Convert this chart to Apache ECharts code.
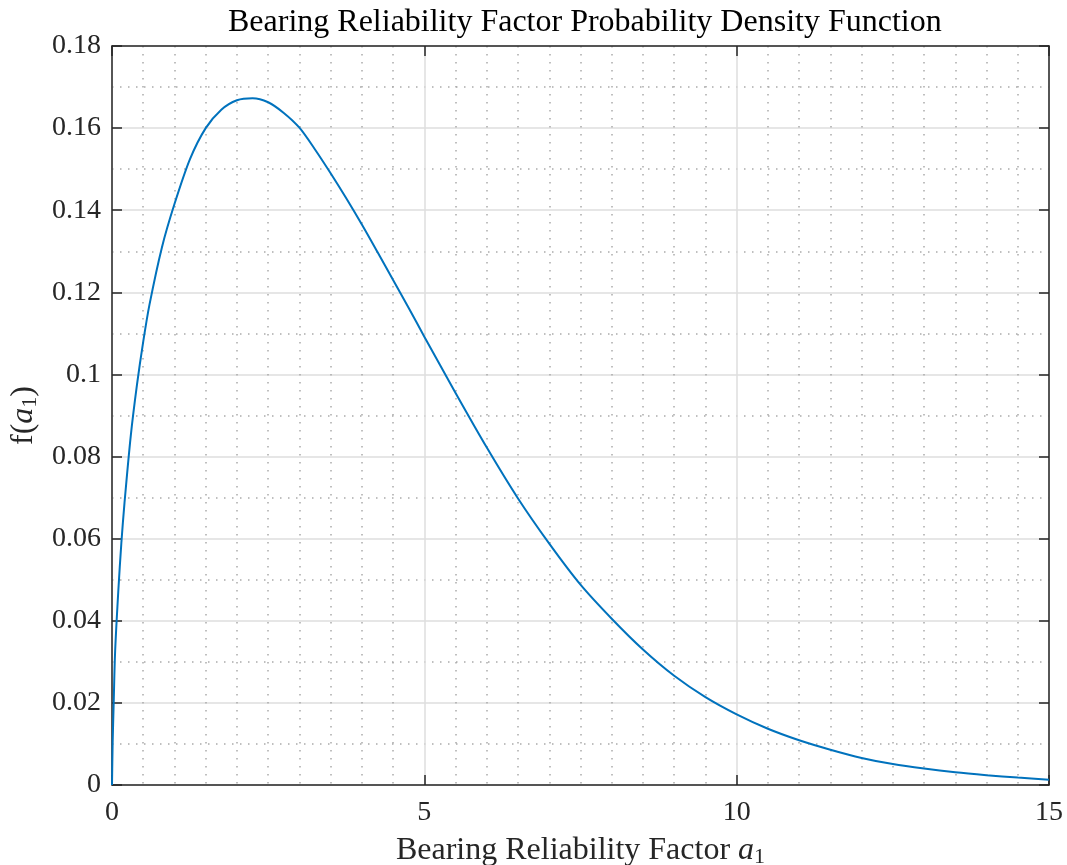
<!DOCTYPE html>
<html>
<head>
<meta charset="utf-8">
<script src="https://cdn.jsdelivr.net/npm/echarts@6/dist/echarts.min.js"></script>
<style>
html,body{margin:0;padding:0;background:#fff;}
#chart{width:1067px;height:865px;}
</style>
</head>
<body>
<div id="chart"></div>
<script>
// Data
const xVals = [0, 0.01, 0.027, 0.05, 0.1, 0.15, 0.2, 0.3, 0.4, 0.5, 0.6, 0.8, 1.0, 1.25, 1.5, 1.75, 2.0, 2.25, 2.5, 2.75, 3.0, 3.25, 3.5, 3.75, 4.0, 4.25, 4.5, 4.75, 5.0, 5.5, 6.0, 6.5, 7.0, 7.5, 8.0, 8.5, 9.0, 9.5, 10.0, 10.5, 11.0, 11.5, 12.0, 12.5, 13.0, 13.5, 14.0, 14.5, 15.0];
const yVals = [0, 0.010, 0.020, 0.0325, 0.047, 0.059, 0.0687, 0.085, 0.0975, 0.108, 0.117, 0.131, 0.1415, 0.1525, 0.160, 0.1645, 0.1668, 0.1673, 0.1663, 0.1637, 0.1601, 0.1548, 0.149, 0.1429, 0.1365, 0.1298, 0.123, 0.1162, 0.1092, 0.0955, 0.0822, 0.0698, 0.0588, 0.0488, 0.0405, 0.0330, 0.0266, 0.0214, 0.0172, 0.0137, 0.0109, 0.0086, 0.0066, 0.0051, 0.0040, 0.0031, 0.0024, 0.0018, 0.0013];
const titleText = 'Bearing Reliability Factor Probability Density Function';
const xName = 'Bearing Reliability Factor ';
const yName = 'f(';

const FONT = 'Liberation Serif';
const AX = '#262626';
const points = xVals.map((x, i) => [x, yVals[i]]);

const chart = echarts.init(document.getElementById('chart'), null, {renderer: 'canvas'});
const fmt = v => String(+(+v).toFixed(2));

const lineStyleAxis = {color: AX, width: 1.5};
const nameRich = {
  n: {fontFamily: FONT, fontSize: 32, color: '#262626'},
  i: {fontFamily: FONT, fontSize: 32, fontStyle: 'italic', color: '#262626'},
  s: {fontFamily: FONT, fontSize: 22, color: '#262626', padding: [13, 0, 0, 0]}
};
const minorStyle = {color: '#aaaaaa', width: 1.5, type: [1.5, 6.5]};
chart.setOption({
  animation: false,
  backgroundColor: '#fff',
  title: {
    text: titleText,
    left: 223,
    top: 2,
    textStyle: {fontFamily: FONT, fontSize: 32, fontWeight: 'normal', color: '#000'}
  },
  grid: {left: 112, right: 18, top: 46, bottom: 80, containLabel: false, outerBoundsMode: 'none'},
  xAxis: [{
    type: 'value', min: 0, max: 15, interval: 5, position: 'bottom',
    name: '{n|' + xName + '}{i|a}{s|1}',
    nameLocation: 'middle', nameGap: 48,
    nameTextStyle: {rich: nameRich},
    axisLine: {show: true, onZero: false, lineStyle: lineStyleAxis},
    axisTick: {show: true, inside: true, length: 10, lineStyle: lineStyleAxis},
    axisLabel: {show: true, margin: 14, fontFamily: FONT, fontSize: 28, color: '#262626', formatter: fmt},
    splitLine: {show: true, lineStyle: {color: '#dedede', width: 1.5}},
    minorTick: {show: false, splitNumber: 10},
    minorSplitLine: {show: true, lineStyle: minorStyle}
  }, {
    type: 'value', min: 0, max: 15, interval: 5, position: 'top',
    axisLine: {show: true, onZero: false, lineStyle: lineStyleAxis},
    axisTick: {show: true, inside: true, length: 10, lineStyle: lineStyleAxis},
    axisLabel: {show: false},
    splitLine: {show: false}
  }],
  yAxis: [{
    type: 'value', min: 0, max: 0.18, interval: 0.02, position: 'left',
    name: '{n|' + yName + '}{i|a}{s|1}{n|)}',
    nameLocation: 'middle', nameGap: 66, nameRotate: 90,
    nameTextStyle: {rich: nameRich},
    axisLine: {show: true, onZero: false, lineStyle: lineStyleAxis},
    axisTick: {show: true, inside: true, length: 10, lineStyle: lineStyleAxis},
    axisLabel: {show: true, margin: 11, fontFamily: FONT, fontSize: 28, color: '#262626', formatter: fmt},
    splitLine: {show: true, lineStyle: {color: '#dedede', width: 1.5}},
    minorTick: {show: false, splitNumber: 2},
    minorSplitLine: {show: true, lineStyle: minorStyle}
  }, {
    type: 'value', min: 0, max: 0.18, interval: 0.02, position: 'right',
    axisLine: {show: true, onZero: false, lineStyle: lineStyleAxis},
    axisTick: {show: true, inside: true, length: 10, lineStyle: lineStyleAxis},
    axisLabel: {show: false},
    splitLine: {show: false}
  }],
  series: [{
    type: 'line',
    xAxisIndex: 0, yAxisIndex: 0,
    data: points,
    showSymbol: false,
    smooth: 0.3,
    lineStyle: {color: '#0072BD', width: 2},
    itemStyle: {color: '#0072BD'},
    clip: true
  }]
});
</script>
</body>
</html>
